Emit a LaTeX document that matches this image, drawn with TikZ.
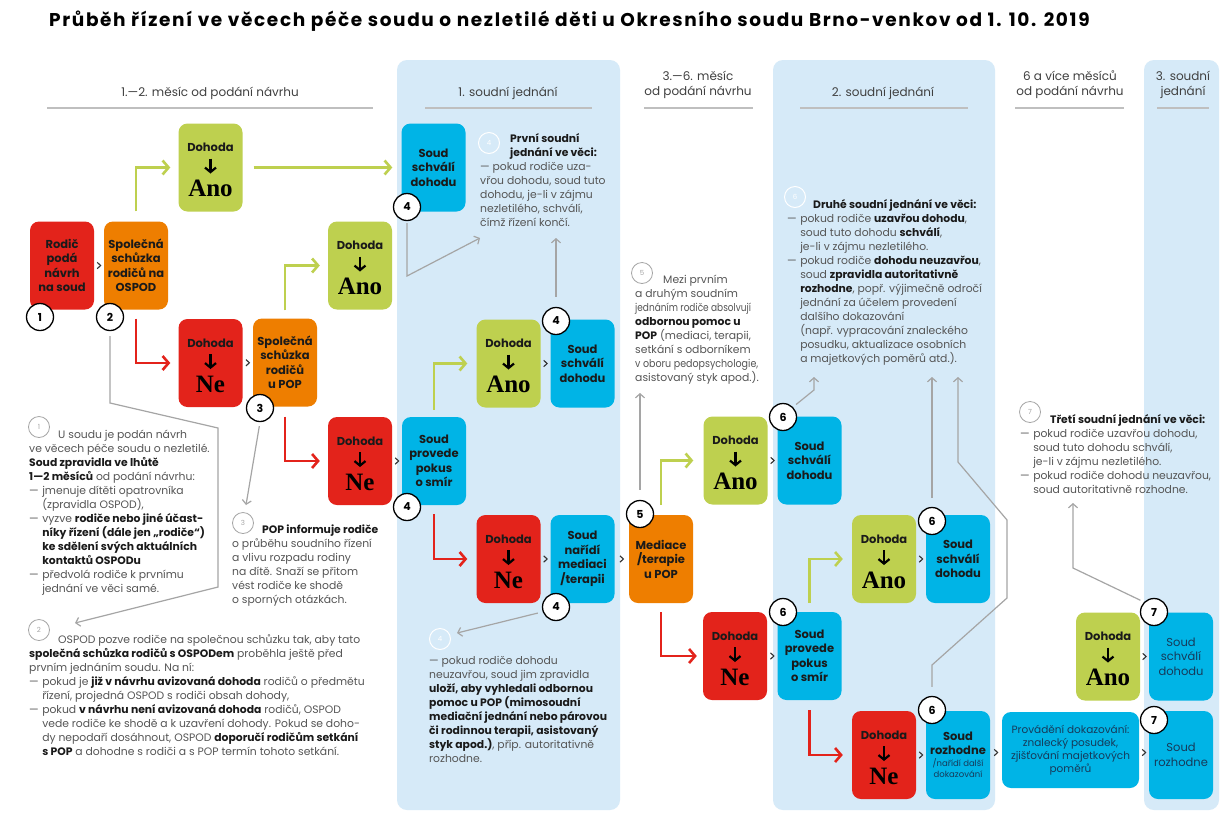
\documentclass[tikz,border=0pt]{standalone}
\usepackage{fontspec}
\usepackage{graphicx}
\setmainfont{Poppins}
\newfontfamily\anofont{Liberation Serif}
\newfontfamily\titlefont[LetterSpace=8.8]{Poppins}
\usetikzlibrary{arrows.meta,calc}
\definecolor{cgreen}{HTML}{BED04F}
\definecolor{cred}{HTML}{E3231B}
\definecolor{corange}{HTML}{EE7E00}
\definecolor{cblue}{HTML}{00B4E6}
\definecolor{cpanel}{HTML}{D6EAF8}
\definecolor{cgray}{HTML}{A5A5A5}
\definecolor{ctext}{HTML}{555555}
\definecolor{cdark}{HTML}{1A1A1A}
\definecolor{cnavy}{HTML}{163A5A}
\newcommand\dsh{—\hspace{3.5pt}}
\newcommand\indd{\phantom{—\hspace{3.5pt}}}
\newcommand\bt[1]{{\color{cdark}\bfseries #1}}
\tikzset{
  bx/.style={rounded corners=9pt, minimum width=64pt, minimum height=88pt, inner sep=0pt,
    align=center, text=cdark, font=\fontsize{11.5}{14.5}\selectfont\bfseries},
  dtxt/.style={inner sep=0pt, text=cdark, font=\fontsize{11.5}{12}\selectfont\bfseries},
  anot/.style={inner sep=0pt, text=black, font=\anofont\bfseries\fontsize{25}{25}\selectfont},
  darr/.style={draw=black, line width=2.2pt, -{Straight Barb[length=4.5pt,width=11pt]}},
  num/.style={circle, draw=black, line width=1.3pt, fill=white, minimum size=27pt, inner sep=0pt,
    font=\fontsize{11}{11}\selectfont\bfseries},
  inum/.style={circle, draw=cgray, line width=0.8pt, minimum size=21pt, inner sep=0pt, text=cgray,
    font=\fontsize{7}{7}\selectfont},
  wnum/.style={inum, draw=white, text=white, line width=1pt},
  garrow/.style={draw=cgreen, line width=2.6pt, -{Straight Barb[length=6pt,width=14pt]}},
  rarrow/.style={draw=cred, line width=2.6pt, -{Straight Barb[length=6pt,width=14pt]}},
  gline/.style={draw=cgray, line width=1.2pt, -{Straight Barb[length=4pt,width=9pt]}},
  chev/.style={draw=black!80, line width=1.1pt},
  hdr/.style={text=black!75, font=\fontsize{12}{15}\selectfont, align=center, inner sep=0pt},
  hline/.style={draw=black!25, line width=1.6pt},
  txt/.style={anchor=base west, inner sep=0pt, text=ctext, font=\fontsize{10.8}{14}\selectfont},
}
\newcommand\dohoda[5]{%
  \node[bx,fill=#4] (#1) at (#2,#3) {};
  \node[dtxt] (#1-t) at ($(#1)+(0,-20)$) {Dohoda};
  \draw[darr] ($(#1)+(0,-9)$) -- ($(#1)+(0,6)$);
  \node[anot] (#1-w) at ($(#1)+(0,21)$) {#5};
}
\newcommand\chevr[2]{%
  \draw[chev] ($(#1.east)!0.5!(#2.west)+(-1.8,-3.2)$) -- ++(3.4,3.2) -- ++(-3.4,3.2);
}
\begin{document}
\begin{tikzpicture}[x=1pt,y=-1pt]
\useasboundingbox (0,0) rectangle (1229,812);
\fill[white] (0,0) rectangle (1229,812);
% panels
\fill[cpanel, rounded corners=10pt] (397,60) rectangle (620,810);
\fill[cpanel, rounded corners=10pt] (773,60) rectangle (995,810);
\fill[cpanel, rounded corners=10pt] (1144,60) rectangle (1219,810);
% title
\node[anchor=west, inner sep=0pt, text=black, font=\titlefont\bfseries\fontsize{18.5}{20}\selectfont] (title) at (49,21)
  {Průběh řízení ve věcech péče soudu o nezletilé děti u Okresního soudu Brno-venkov od 1. 10. 2019};
% headers
\node[hdr] (h1) at (210,93) {1.—2. měsíc od podání návrhu};
\draw[hline] (47,108) -- (373,108);
\node[hdr] (h2) at (508,93) {1. soudní jednání};
\draw[hline] (425,108) -- (592,108);
\node[hdr] (h3) at (698,85) {3.—6. měsíc\\od podání návrhu};
\draw[hline] (644,108) -- (753,108);
\node[hdr] (h4) at (883,93) {2. soudní jednání};
\draw[hline] (800,108) -- (968,108);
\node[hdr] (h5) at (1070,85) {6 a více měsíců\\od podání návrhu};
\draw[hline] (1015,108) -- (1124,108);
\node[hdr] (h6) at (1183,85) {3. soudní\\jednání};
\draw[hline] (1157,108) -- (1209,108);
% boxes
\node[bx,fill=cred] (rodic) at (62,265.5) {Rodič\\podá\\návrh\\na soud};
\node[bx,fill=corange] (osp) at (136,265.5) {Společná\\schůzka\\rodičů na\\OSPOD};
\dohoda{ano1}{210.5}{167.5}{cgreen}{Ano}
\dohoda{ne1}{210.5}{363}{cred}{Ne}
\node[bx,fill=corange] (pop) at (285,362.5) {Společná\\schůzka\\rodičů\\u POP};
\dohoda{ano2}{360}{265.5}{cgreen}{Ano}
\dohoda{ne2}{360}{461}{cred}{Ne}
\node[bx,fill=cblue] (smir1) at (434,461) {Soud\\provede\\pokus\\o smír};
\node[bx,fill=cblue] (schv1) at (433.5,167.5) {Soud\\schválí\\dohodu};
\dohoda{ano3}{508.5}{363.5}{cgreen}{Ano}
\node[bx,fill=cblue] (schv2) at (582.5,363.5) {Soud\\schválí\\dohodu};
\dohoda{ne3}{508.5}{559}{cred}{Ne}
\node[bx,fill=cblue] (nar) at (582.5,559) {Soud\\nařídí\\mediaci\\/terapii};
\node[bx,fill=corange] (med) at (661,559) {Mediace\\/terapie\\u POP};
\dohoda{ano4}{735.5}{460.5}{cgreen}{Ano}
\node[bx,fill=cblue] (schv3) at (809.5,460.5) {Soud\\schválí\\dohodu};
\dohoda{ne4}{735}{656}{cred}{Ne}
\node[bx,fill=cblue] (smir2) at (809.5,656) {Soud\\provede\\pokus\\o smír};
\dohoda{ano5}{884}{559}{cgreen}{Ano}
\node[bx,fill=cblue] (schv4) at (958,559) {Soud\\schválí\\dohodu};
\dohoda{ne5}{884}{755}{cred}{Ne}
\node[bx,fill=cblue] (rozh) at (958,755) {Soud\\rozhodne\\[-3pt]{\fontsize{8.5}{10}\selectfont\mdseries\color{cnavy}/nařídí další}\\[-3pt]{\fontsize{8.5}{10}\selectfont\mdseries\color{cnavy}dokazování}};
\node[bx,fill=cblue,minimum width=137pt,minimum height=76pt,text=cnavy,font=\fontsize{10.5}{13}\selectfont] (prov) at (1070.5,750)
  {Provádění dokazování:\\znalecký posudek,\\zjišťování majetkových\\poměrů};
\dohoda{ano6}{1108}{656.5}{cgreen}{Ano}
\node[bx,fill=cblue,text=cnavy,font=\fontsize{11.5}{14.5}\selectfont] (schv5) at (1181,656.5) {Soud\\schválí\\dohodu};
\node[bx,fill=cblue,text=cnavy,font=\fontsize{11.5}{14.5}\selectfont] (rozh2) at (1181,755) {Soud\\rozhodne};
% green / red arrows
\draw[garrow] ([yshift=10pt]osp.north) |- ([xshift=-8pt]ano1.west);
\draw[garrow] ([xshift=11pt]ano1.east) -- ([xshift=-9pt]schv1.west);
\draw[rarrow] ([yshift=-9pt]osp.south) |- ([xshift=-8pt]ne1.west);
\draw[garrow] ([yshift=8pt]pop.north) |- ([xshift=-8pt]ano2.west);
\draw[rarrow] ([yshift=-10pt]pop.south) |- ([xshift=-8pt]ne2.west);
\draw[garrow] ([yshift=7pt]smir1.north) |- ([xshift=-9pt]ano3.west);
\draw[rarrow] ([yshift=-9pt]smir1.south) |- ([xshift=-9pt]ne3.west);
\draw[garrow] ([yshift=10pt]med.north) |- ([xshift=-10pt]ano4.west);
\draw[rarrow] ([yshift=-9pt]med.south) |- ([xshift=-6pt]ne4.west);
\draw[garrow] ([yshift=9pt]smir2.north) |- ([xshift=-9pt]ano5.west);
\draw[rarrow] ([yshift=-10pt]smir2.south) |- ([xshift=-9pt]ne5.west);
% chevrons
\chevr{rodic}{osp}
\chevr{ne1}{pop}
\chevr{ne2}{smir1}
\chevr{ano3}{schv2}
\chevr{ne3}{nar}
\chevr{nar}{med}
\chevr{ano4}{schv3}
\chevr{ne4}{smir2}
\chevr{ano5}{schv4}
\chevr{ne5}{rozh}
\chevr{rozh}{prov}
\chevr{prov}{rozh2}
\chevr{ano6}{schv5}
% numbered circles
\node[num] (n1) at (40,317) {1};
\node[num] (n2) at (110,317) {2};
\node[num] (n3) at (260,408) {3};
\node[num] (n4a) at (407,207) {4};
\node[num] (n4b) at (556,321) {4};
\node[num] (n4c) at (407,507) {4};
\node[num] (n4d) at (556,607) {4};
\node[num] (n5) at (640,514) {5};
\node[num] (n6a) at (783,417) {6};
\node[num] (n6b) at (783,612) {6};
\node[num] (n6c) at (932,521) {6};
\node[num] (n6d) at (932,710) {6};
\node[num] (n7a) at (1154,612) {7};
\node[num] (n7b) at (1154,720) {7};
% info circles
\node[inum] (i1) at (39,427) {1};
\node[inum] (i2) at (39,630) {2};
\node[inum] (i3) at (243,523) {3};
\node[wnum] (i4a) at (489,143) {4};
\node[wnum] (i4b) at (440,639) {4};
\node[inum] (i5) at (642,273) {5};
\node[wnum] (i6) at (795,197) {6};
\node[inum] (i7) at (1030,412) {7};
% texts
\node[txt] (t1) at (29,438) {\begin{minipage}[t]{380pt}\raggedright
\hspace*{29pt}U soudu je podán návrh\\
ve věcech péče soudu o nezletilé.\\
\bt{Soud zpravidla ve lhůtě}\\
\bt{1—2 měsíců} od podání návrhu:\\
\dsh jmenuje dítěti opatrovníka\\
\indd(zpravidla OSPOD),\\
\dsh vyzve \bt{rodiče nebo jiné účast-}\\
\indd\bt{níky řízení (dále jen „rodiče“)}\\
\indd\bt{ke sdělení svých aktuálních}\\
\indd\bt{kontaktů OSPODu}\\
\dsh předvolá rodiče k prvnímu\\
\indd jednání ve věci samé.
\end{minipage}};
\node[txt] (t2) at (29,643) {\begin{minipage}[t]{380pt}\raggedright
\hspace*{29pt}OSPOD pozve rodiče na společnou schůzku tak, aby tato\\
\bt{společná schůzka rodičů s OSPODem} proběhla ještě před\\
prvním jednáním soudu. Na ní:\\
\dsh pokud je \bt{již v návrhu avizovaná dohoda} rodičů o předmětu\\
\indd řízení, projedná OSPOD s rodiči obsah dohody,\\
\dsh pokud \bt{v návrhu není avizovaná dohoda} rodičů, OSPOD\\
\indd vede rodiče ke shodě a k uzavření dohody. Pokud se doho-\\
\indd dy nepodaří dosáhnout, OSPOD \bt{doporučí rodičům setkání}\\
\indd\bt{s POP} a dohodne s rodiči a s POP termín tohoto setkání.
\end{minipage}};
\node[txt] (t3) at (232,533) {\begin{minipage}[t]{200pt}\raggedright
\hspace*{30pt}\bt{POP informuje rodiče}\\
o průběhu soudního řízení\\
a vlivu rozpadu rodiny\\
na dítě. Snaží se přitom\\
vést rodiče ke shodě\\
o sporných otázkách.
\end{minipage}};
\node[txt] (t4a) at (480,142) {\begin{minipage}[t]{200pt}\raggedright
\hspace*{30pt}\bt{První soudní}\\
\hspace*{30pt}\bt{jednání ve věci:}\\
— pokud rodiče uza-\\
vřou dohodu, soud tuto\\
dohodu, je-li v zájmu\\
nezletilého, schválí,\\
čímž řízení končí.
\end{minipage}};
\node[txt] (t4b) at (429,664) {\begin{minipage}[t]{200pt}\raggedright
— pokud rodiče dohodu\\
neuzavřou, soud jim zpravidla\\
\bt{uloží, aby vyhledali odbornou}\\
\bt{pomoc u POP (mimosoudní}\\
\bt{mediační jednání nebo párovou}\\
\bt{či rodinnou terapii, asistovaný}\\
\bt{styk apod.)}, příp. autoritativně\\
rozhodne.
\end{minipage}};
\node[txt] (t5) at (635,283) {\begin{minipage}[t]{200pt}\raggedright
\hspace*{28pt}Mezi prvním\\
a druhým soudním\\
\scalebox{0.83}[1]{jednáním rodiče absolvují}\\
\bt{odbornou pomoc u}\\
\bt{POP} (mediaci, terapii,\\
setkání s odborníkem\\
\scalebox{0.88}[1]{v oboru pedopsychologie,}\\
asistovaný styk apod.).
\end{minipage}};
\node[txt] (t6) at (787,208) {\begin{minipage}[t]{220pt}\raggedright
\hspace*{26pt}\bt{Druhé soudní jednání ve věci:}\\
\dsh pokud rodiče \bt{uzavřou dohodu},\\
\indd soud tuto dohodu \bt{schválí},\\
\indd je-li v zájmu nezletilého.\\
\dsh pokud rodiče \bt{dohodu neuzavřou},\\
\indd soud \bt{zpravidla autoritativně}\\
\indd\bt{rozhodne}, popř. výjimečně odročí\\
\indd jednání za účelem provedení\\
\indd dalšího dokazování\\
\indd (např. vypracování znaleckého\\
\indd posudku, aktualizace osobních\\
\indd a majetkových poměrů atd.).
\end{minipage}};
\node[txt] (t7) at (1020,423) {\begin{minipage}[t]{220pt}\raggedright
\hspace*{30pt}\bt{Třetí soudní jednání ve věci:}\\
\dsh pokud rodiče uzavřou dohodu,\\
\indd soud tuto dohodu schválí,\\
\indd je-li v zájmu nezletilého.\\
\dsh pokud rodiče dohodu neuzavřou,\\
\indd soud autoritativně rozhodne.
\end{minipage}};
% gray connectors
\draw[gline, shorten <=5pt] (n2.south) -- (110,403) -- (218,428) -- (218,587) -- ($(i2)+(36,-7)$);
\draw[gline, shorten <=4pt] (n3.south) -- ($(i3)+(3,-18)$);
\draw[gline, shorten <=2pt] (n4a.south) -- (407,276) -- (480,238);
\draw[gline, shorten <=10pt] (n4b.north) -- (556,238);
\draw[gline, shorten <=5pt] (n4d.200) -- ($(i4b)+(17,-6)$);
\draw[gline, shorten <=10pt] (n5.north) -- (640,393);
\draw[gline, shorten <=4pt] (n6a.north east) -- (814,390) -- (814,377);
\draw[gline, shorten <=9pt] (n6c.north) -- (932,377);
\draw[gline, shorten <=9pt] (n6d.north) -- (932,665) -- (1007,598) -- (1007,520) -- (958,462) -- (958,377);
\draw[gline, shorten <=4pt] (n7a.north west) -- (1073,568) -- (1073,503);
\end{tikzpicture}
\end{document}
